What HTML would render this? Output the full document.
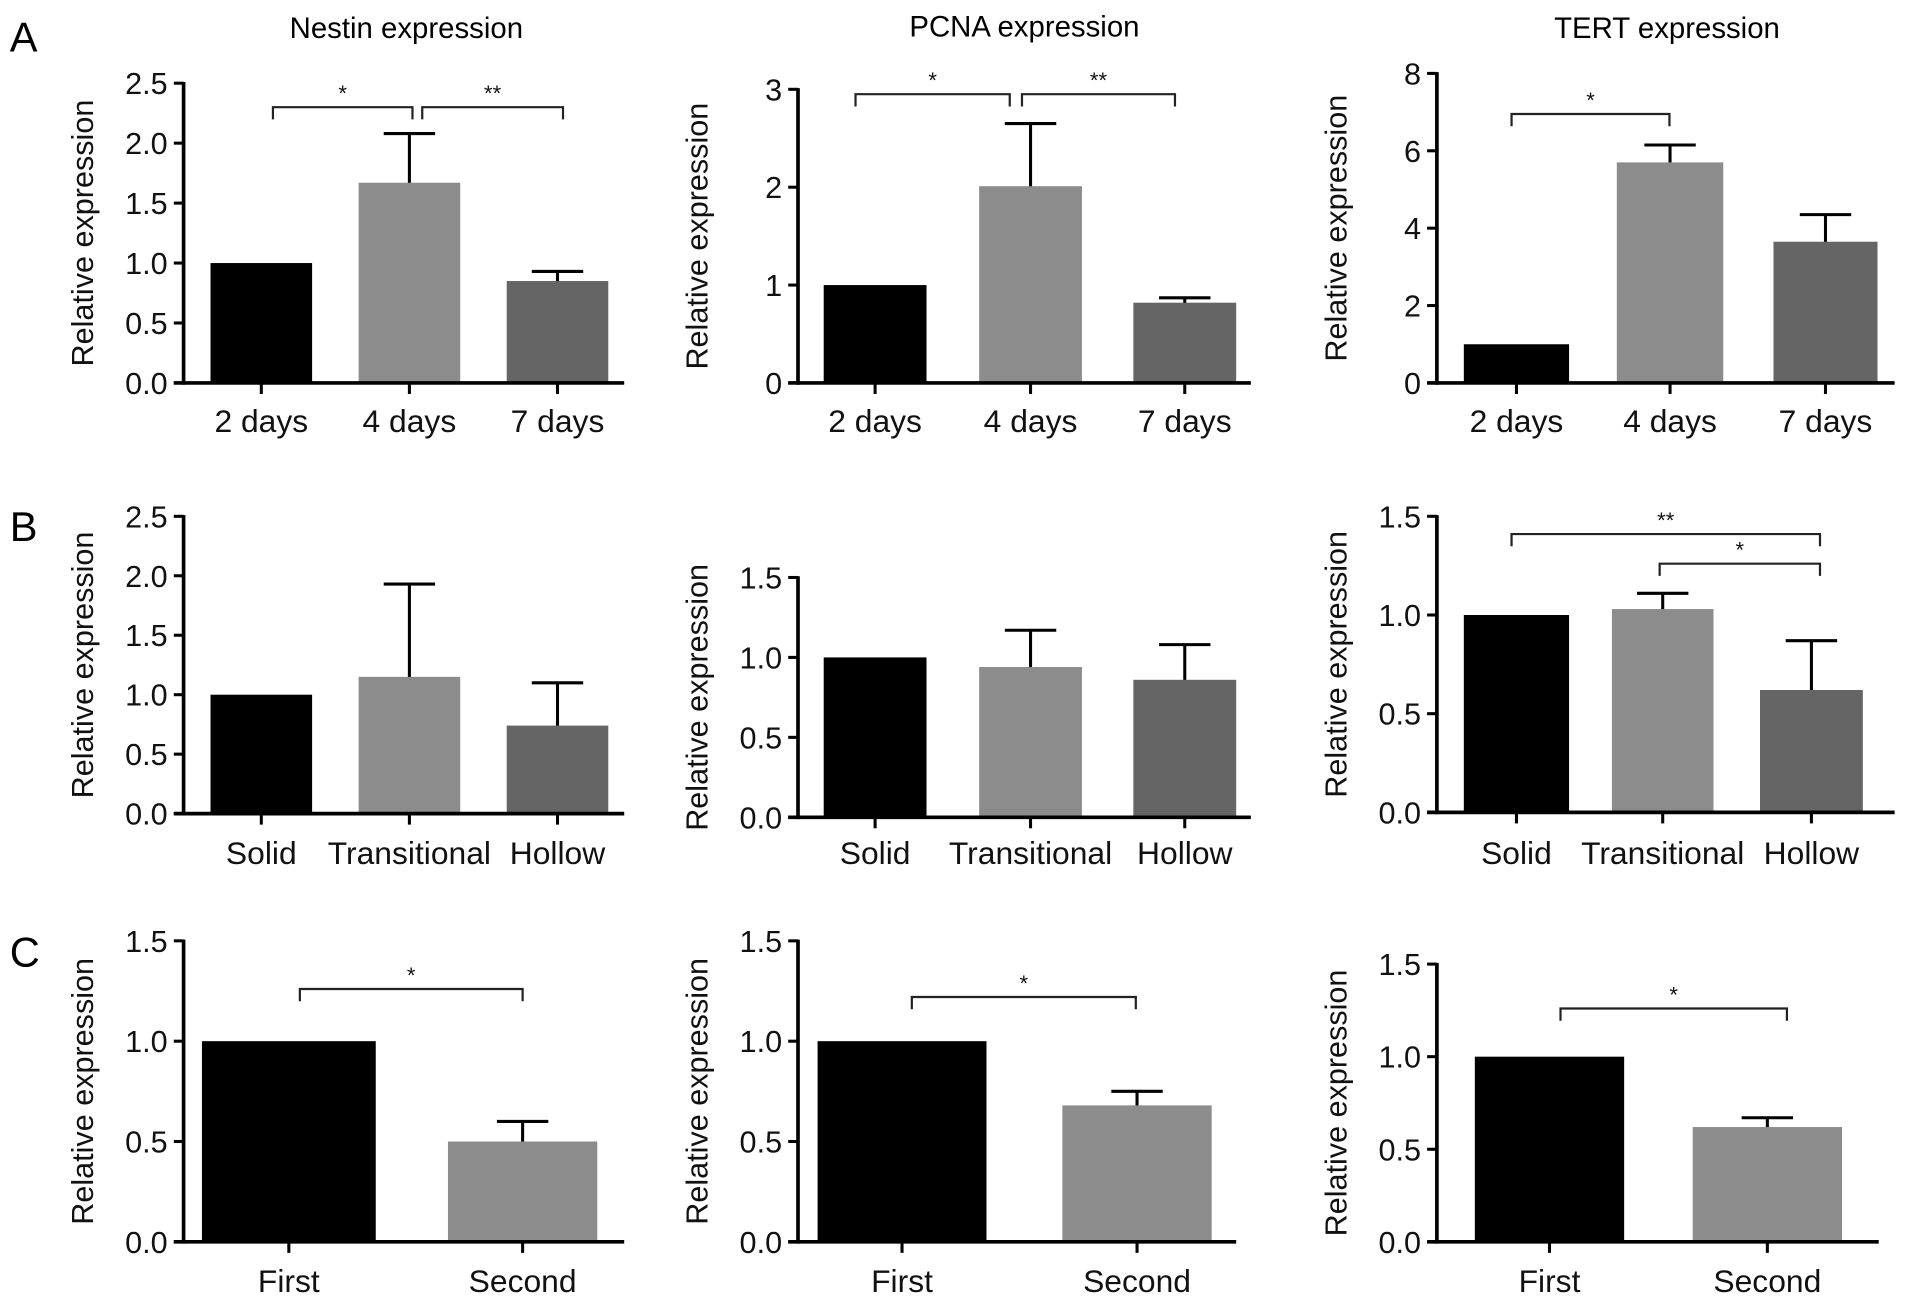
<!DOCTYPE html>
<html><head><meta charset="utf-8"><style>
html,body{margin:0;padding:0;background:#fff;}
svg{display:block;font-family:"Liberation Sans",Arial,sans-serif;}
</style></head><body>
<svg id="fig" width="1913" height="1303" viewBox="0 0 1563 1065" preserveAspectRatio="none" xmlns="http://www.w3.org/2000/svg">
<text x="8" y="42" font-size="34">A</text>
<text x="8" y="442" font-size="34">B</text>
<text x="8" y="790" font-size="34">C</text>
<text x="332" y="31" font-size="24" text-anchor="middle">Nestin expression</text>
<text x="837" y="30" font-size="24" text-anchor="middle">PCNA expression</text>
<text x="1362" y="31" font-size="24" text-anchor="middle">TERT expression</text>
</svg>
<script>
// Data arrays
const daysCats = ["2 days","4 days","7 days"];
const morphCats = ["Solid","Transitional","Hollow"];
const passCats = ["First","Second"];

const nestinDaysVals = [1.0, 1.67, 0.85];
const nestinDaysErr  = [0, 2.08, 0.93];
const pcnaDaysVals = [1.0, 2.01, 0.82];
const pcnaDaysErr  = [0, 2.65, 0.87];
const tertDaysVals = [1.0, 5.7, 3.65];
const tertDaysErr  = [0, 6.15, 4.35];

const nestinMorphVals = [1.0, 1.15, 0.74];
const nestinMorphErr  = [0, 1.93, 1.10];
const pcnaMorphVals = [1.0, 0.94, 0.86];
const pcnaMorphErr  = [0, 1.17, 1.08];
const tertMorphVals = [1.0, 1.03, 0.62];
const tertMorphErr  = [0, 1.11, 0.87];

const nestinPassVals = [1.0, 0.50];
const nestinPassErr  = [0, 0.60];
const pcnaPassVals = [1.0, 0.68];
const pcnaPassErr  = [0, 0.75];
const tertPassVals = [1.0, 0.62];
const tertPassErr  = [0, 0.67];

const ticks25 = [0,0.5,1,1.5,2,2.5];
const ticks3 = [0,1,2,3];
const ticks8 = [0,2,4,6,8];
const ticks15 = [0,0.5,1,1.5];

const colors3 = ["#000000","#8c8c8c","#656565"];
const colors2 = ["#000000","#8c8c8c"];

const panels = [
 {id:"nestin-days",cats:daysCats,vals:nestinDaysVals,err:nestinDaysErr,ticks:ticks25,dec:1,ax:150,y0:313,y1:68,ymax:2.5,xEnd:510,bars:[[172,255],[293,376],[414,497]],cols:colors3,lblY:353,
  sig:[{v:2.3,t:"*",x1:223,x2:337},{v:2.3,t:"**",x1:345,x2:460}]},
 {id:"pcna-days",cats:daysCats,vals:pcnaDaysVals,err:pcnaDaysErr,ticks:ticks3,dec:0,ax:652,y0:313,y1:73,ymax:3,xEnd:1022,bars:[[673,757],[800,884],[926,1010]],cols:colors3,lblY:353,
  sig:[{v:2.95,t:"*",x1:699,x2:825},{v:2.95,t:"**",x1:835,x2:960}]},
 {id:"tert-days",cats:daysCats,vals:tertDaysVals,err:tertDaysErr,ticks:ticks8,dec:0,ax:1174,y0:313,y1:60,ymax:8,xEnd:1548,bars:[[1196,1282],[1321,1408],[1449,1534]],cols:colors3,lblY:353,
  sig:[{v:6.95,t:"*",x1:1235,x2:1364}]},
 {id:"nestin-morph",cats:morphCats,vals:nestinMorphVals,err:nestinMorphErr,ticks:ticks25,dec:1,ax:150,y0:665,y1:422,ymax:2.5,xEnd:510,bars:[[172,255],[293,376],[414,497]],cols:colors3,lblY:706,sig:[]},
 {id:"pcna-morph",cats:morphCats,vals:pcnaMorphVals,err:pcnaMorphErr,ticks:ticks15,dec:1,ax:652,y0:668,y1:472,ymax:1.5,xEnd:1022,bars:[[673,757],[800,884],[926,1010]],cols:colors3,lblY:706,sig:[]},
 {id:"tert-morph",cats:morphCats,vals:tertMorphVals,err:tertMorphErr,ticks:ticks15,dec:1,ax:1174,y0:664,y1:422,ymax:1.5,xEnd:1548,bars:[[1196,1282],[1317,1400],[1438,1522]],cols:colors3,lblY:706,
  sig:[{v:1.41,t:"**",x1:1235,x2:1487},{v:1.26,t:"*",x1:1356,x2:1487}]},
 {id:"nestin-pass",cats:passCats,vals:nestinPassVals,err:nestinPassErr,ticks:ticks15,dec:1,ax:150,y0:1015,y1:769,ymax:1.5,xEnd:510,bars:[[165,307],[366,488]],cols:colors2,lblY:1056,
  sig:[{v:1.26,t:"*",x1:245,x2:427}]},
 {id:"pcna-pass",cats:passCats,vals:pcnaPassVals,err:pcnaPassErr,ticks:ticks15,dec:1,ax:652,y0:1015,y1:769,ymax:1.5,xEnd:1010,bars:[[668,806],[868,990]],cols:colors2,lblY:1056,
  sig:[{v:1.22,t:"*",x1:745,x2:928}]},
 {id:"tert-pass",cats:passCats,vals:tertPassVals,err:tertPassErr,ticks:ticks15,dec:1,ax:1174,y0:1015,y1:788,ymax:1.5,xEnd:1535,bars:[[1205,1327],[1383,1505]],cols:colors2,lblY:1056,
  sig:[{v:1.26,t:"*",x1:1275,x2:1460}]}
];

const NS="http://www.w3.org/2000/svg";
const svg=document.getElementById('fig');
function mk(tag,attrs,parent){const e=document.createElementNS(NS,tag);for(const k in attrs)e.setAttribute(k,attrs[k]);(parent||svg).appendChild(e);return e;}

panels.forEach(p=>{
  const g=mk('g',{});
  
  
  const ys=v=>p.y0-(v/p.ymax)*(p.y0-p.y1);
  p.vals.forEach((v,i)=>{
    const [x1,x2]=p.bars[i];const cx=(x1+x2)/2;
    if(p.err[i]>v){
      const eb=mk('g',{},g);
      
      
      mk('line',{x1:cx,x2:cx,y1:ys(v)+8,y2:ys(p.err[i]),stroke:'#000','stroke-width':2.5},eb);
      mk('line',{x1:cx-21,x2:cx+21,y1:ys(p.err[i]),y2:ys(p.err[i]),stroke:'#000','stroke-width':2.5},eb);
    }
    const r=mk('rect',{x:x1,y:ys(v),width:x2-x1,height:p.y0-ys(v),fill:p.cols[i]},g);
    
    
    const t=mk('text',{x:cx,y:p.lblY,'font-size':26,'text-anchor':'middle',fill:'#111'},g);
    t.textContent=p.cats[i];
    
    
    mk('line',{x1:cx,x2:cx,y1:p.y0,y2:p.y0+9,stroke:'#000','stroke-width':2.5},g);
  });
  const yax=mk('line',{x1:p.ax,x2:p.ax,y1:p.y1-1,y2:p.y0+1.5,stroke:'#000','stroke-width':3},g);
  
  
  const xax=mk('line',{x1:p.ax-8,x2:p.xEnd,y1:p.y0,y2:p.y0,stroke:'#000','stroke-width':3},g);
  
  
  p.ticks.forEach(tv=>{
    const y=ys(tv);
    mk('line',{x1:p.ax-8,x2:p.ax,y1:y,y2:y,stroke:'#000','stroke-width':2.5},g);
    const t=mk('text',{x:p.ax-13,y:y+9,'font-size':25,'text-anchor':'end',fill:'#111'},g);
    t.textContent=tv.toFixed(p.dec);
    
    
  });
  const yl=mk('text',{x:0,y:0,'font-size':25,'text-anchor':'middle',fill:'#111',transform:`translate(${p.ax-74},${(p.y0+p.y1)/2}) rotate(-90)`},g);
  yl.textContent='Relative expression';
  
  
  p.sig.forEach(s=>{
    const y=ys(s.v);
    const b=mk('path',{d:`M${s.x1},${y+10}V${y}H${s.x2}V${y+10}`,fill:'none',stroke:'#222','stroke-width':1.8},g);
    
    
    const st=mk('text',{x:(s.x1+s.x2)/2,y:y-5,'font-size':18,'text-anchor':'middle',fill:'#111'},g);
    st.textContent=s.t;
    
    
  });
});
</script>
</body></html>
